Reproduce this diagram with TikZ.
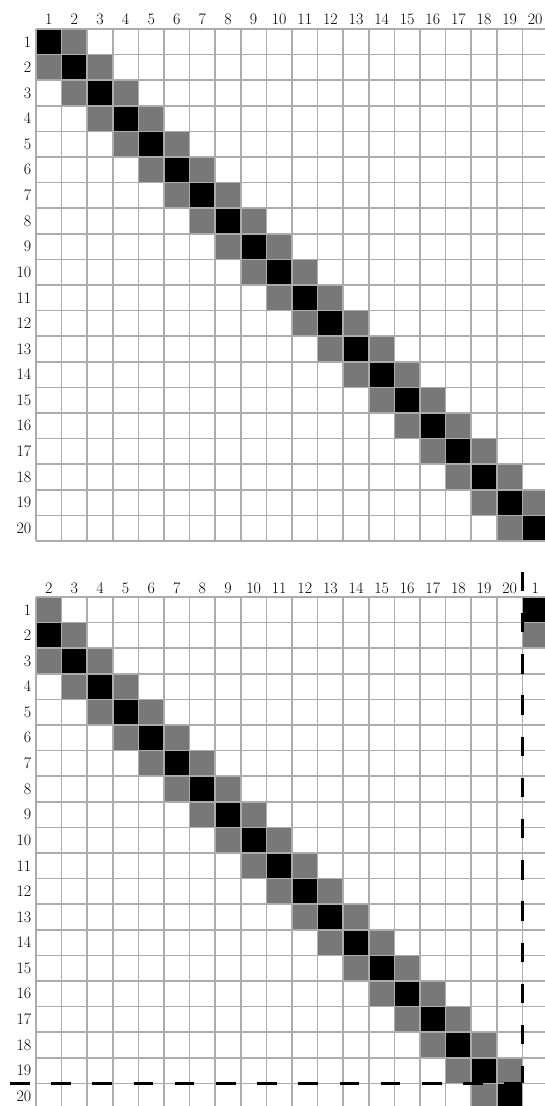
\documentclass[tikz,border=0pt]{standalone}
\definecolor{cellgray}{RGB}{120,120,120}
\definecolor{gridgray}{RGB}{172,172,172}
\begin{document}
\begin{tikzpicture}[x=1pt,y=-1pt,
  lab/.style={inner sep=0pt,font=\fontsize{16}{19}\selectfont},
  gridline/.style={draw=gridgray,line width=1.5pt},
  blackcell/.style={fill=black},
  graycell/.style={fill=cellgray},
  cutline/.style={line width=2.3pt,dash pattern=on 19.5pt off 21.7pt}]
\useasboundingbox (0,0) rectangle (545,1106);
\clip (0,0) rectangle (545,1106);
\def\cs{25.6}
\def\xo{36}
\def\ya{29}
\def\yb{597}
% ---------- top grid ----------
\foreach \i in {1,...,20} {
  \fill[blackcell] ({\xo+(\i-1)*\cs},{\ya+(\i-1)*\cs}) rectangle +(\cs,\cs);
}
\foreach \i in {1,...,19} {
  \fill[graycell] ({\xo+\i*\cs},{\ya+(\i-1)*\cs}) rectangle +(\cs,\cs);
  \fill[graycell] ({\xo+(\i-1)*\cs},{\ya+\i*\cs}) rectangle +(\cs,\cs);
}
\foreach \k in {0,...,20} {
  \draw[gridline] ({\xo+\k*\cs},\ya) -- ({\xo+\k*\cs},{\ya+20*\cs});
  \draw[gridline] (\xo,{\ya+\k*\cs}) -- ({\xo+20*\cs},{\ya+\k*\cs});
}
\foreach \i in {1,...,20} {
  \node[lab,anchor=east] (ra\i) at (31.5,{\ya+(\i-0.5)*\cs}) {\i};
  \node[lab,anchor=south] (ca\i) at ({\xo+(\i-0.5)*\cs},{\ya-4.5}) {\i};
}
% ---------- bottom grid ----------
% position p holds column p+1 (p=1..19), position 20 holds column 1
\fill[blackcell] ({\xo+19*\cs},\yb) rectangle +(\cs,\cs);
\foreach \i in {2,...,20} {
  \fill[blackcell] ({\xo+(\i-2)*\cs},{\yb+(\i-1)*\cs}) rectangle +(\cs,\cs);
}
\foreach \i in {1,...,19} {
  \fill[graycell] ({\xo+(\i-1)*\cs},{\yb+(\i-1)*\cs}) rectangle +(\cs,\cs);
}
\fill[graycell] ({\xo+19*\cs},{\yb+\cs}) rectangle +(\cs,\cs);
\foreach \i in {2,...,19} {
  \fill[graycell] ({\xo+(\i-2)*\cs},{\yb+\i*\cs}) rectangle +(\cs,\cs);
}
\foreach \k in {0,...,20} {
  \draw[gridline] ({\xo+\k*\cs},\yb) -- ({\xo+\k*\cs},{\yb+20*\cs});
  \draw[gridline] (\xo,{\yb+\k*\cs}) -- ({\xo+20*\cs},{\yb+\k*\cs});
}
\foreach \i in {1,...,20} {
  \node[lab,anchor=east] (rb\i) at (31.5,{\yb+(\i-0.5)*\cs}) {\i};
}
\foreach \c [count=\p] in {2,3,4,5,6,7,8,9,10,11,12,13,14,15,16,17,18,19,20,1} {
  \node[lab,anchor=south] (cb\c) at ({\xo+(\p-0.5)*\cs},{\yb-3.5}) {\c};
}
% ---------- dashed cut lines ----------
\coordinate (vtop) at ({\xo+19*\cs},571.7);
\coordinate (corner) at ({\xo+19*\cs},{\yb+19*\cs});
\coordinate (hleft) at (10,{\yb+19*\cs});
\draw[cutline] (vtop) -- (corner);
\draw[cutline] (hleft) -- (corner);
\end{tikzpicture}
\end{document}
